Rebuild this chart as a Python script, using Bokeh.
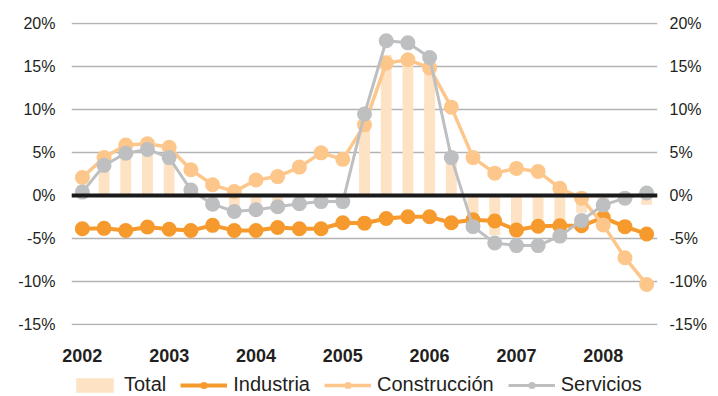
from bokeh.plotting import figure
from bokeh.layouts import column
from bokeh.models import (Range1d, LinearAxis, FixedTicker, Legend, LegendItem,
                          Span, ColumnDataSource, PrintfTickFormatter)
from bokeh.embed import file_html
from bokeh.resources import INLINE

# Quarterly data, 2002-T1 .. 2008-T3 (% year-on-year)
quarters = ["2002-T1", "2002-T2", "2002-T3", "2002-T4",
            "2003-T1", "2003-T2", "2003-T3", "2003-T4",
            "2004-T1", "2004-T2", "2004-T3", "2004-T4",
            "2005-T1", "2005-T2", "2005-T3", "2005-T4",
            "2006-T1", "2006-T2", "2006-T3", "2006-T4",
            "2007-T1", "2007-T2", "2007-T3", "2007-T4",
            "2008-T1", "2008-T2", "2008-T3"]
year_labels = ["2002", "2003", "2004", "2005", "2006", "2007", "2008"]

total = [1.2, 3.9, 5.2, 5.6, 4.6, 0.8, -0.6, -1.6, -1.6, -1.3, -0.9, -0.6, -0.6,
         8.6, 16.3, 16.0, 15.0, 4.7, -3.0, -4.6, -4.2, -3.0, -3.1, -2.0, -1.2, -0.8, -1.05]
industria = [-3.85, -3.8, -4.05, -3.65, -3.9, -4.05, -3.45, -4.05, -4.05, -3.7, -3.85, -3.85, -3.15,
             -3.2, -2.65, -2.45, -2.45, -3.15, -2.8, -2.95, -4.0, -3.55, -3.5, -3.5, -2.55, -3.6, -4.45]
construccion = [2.1, 4.4, 5.85, 6.0, 5.6, 3.0, 1.25, 0.46, 1.8, 2.2, 3.3, 4.95, 4.2,
                8.2, 15.35, 15.75, 14.8, 10.25, 4.4, 2.6, 3.15, 2.8, 0.85, -0.3, -3.4, -7.2, -10.3]
servicios = [0.4, 3.5, 4.9, 5.35, 4.4, 0.65, -1.0, -1.85, -1.65, -1.3, -0.95, -0.7, -0.7,
             9.45, 17.95, 17.7, 16.0, 4.4, -3.6, -5.5, -5.8, -5.8, -4.7, -2.9, -1.1, -0.3, 0.3]
y_ticks = [-15, -10, -5, 0, 5, 10, 15, 20]

x = list(range(len(quarters)))
src = ColumnDataSource(dict(x=x, q=quarters, total=total, industria=industria,
                            construccion=construccion, servicios=servicios))

C_TOTAL = "#FDE2C4"
C_IND = "#F79A2E"
C_CON = "#FDC78B"
C_SER = "#BEBFC1"
TXT = "#231F20"
FONT = "Liberation Sans"


def add_series(fig, with_zero=False):
    """Draw bars + three marker lines on fig; return renderers for the legend."""
    r_tot = fig.vbar(x="x", top="total", bottom=0, width=0.5, source=src,
                     fill_color=C_TOTAL, line_color=None)
    out = [r_tot]
    if with_zero:
        fig.add_layout(Span(location=0, dimension="width", line_color="#1A1A1A", line_width=4))
    for col, color, lw in (("industria", C_IND, 4), ("construccion", C_CON, 3.5),
                           ("servicios", C_SER, 3)):
        rl = fig.line("x", col, source=src, line_color=color, line_width=lw)
        rm = fig.scatter("x", col, source=src, size=15, marker="circle",
                         fill_color=color, line_color=None)
        out.append([rl, rm])
    return out


p = figure(width=718, height=365, output_backend="svg", toolbar_location=None,
           x_range=Range1d(-0.5, len(quarters) - 0.5), y_range=Range1d(-15.06, 20.06),
           min_border_left=71, min_border_right=61, min_border_top=22, min_border_bottom=40)
p.outline_line_color = None
p.background_fill_color = "white"
p.border_fill_color = "white"

# grid
p.xgrid.grid_line_color = None
p.ygrid.ticker = FixedTicker(ticks=y_ticks)
p.ygrid.grid_line_color = "#B3B3B3"
p.ygrid.grid_line_width = 1.3

# left axis
ya = p.yaxis[0]
ya.ticker = FixedTicker(ticks=y_ticks)
ya.formatter = PrintfTickFormatter(format="%d%%")
ya.axis_line_color = None
ya.major_tick_line_color = None
ya.minor_tick_line_color = None
ya.major_label_text_font = FONT
ya.major_label_text_font_size = "16px"
ya.major_label_text_color = TXT
ya.major_label_standoff = 10

# right axis
ra = LinearAxis(ticker=FixedTicker(ticks=y_ticks), formatter=PrintfTickFormatter(format="%d%%"))
ra.axis_line_color = None
ra.major_tick_line_color = None
ra.minor_tick_line_color = None
ra.major_label_text_font = FONT
ra.major_label_text_font_size = "16px"
ra.major_label_text_color = TXT
ra.major_label_standoff = 6
p.add_layout(ra, "right")

# bottom axis: year labels at first quarter of each year
year_pos = [i for i, q in enumerate(quarters) if q.endswith("T1")]
xa = p.xaxis[0]
xa.ticker = FixedTicker(ticks=year_pos)
xa.major_label_overrides = {pos: lab for pos, lab in zip(year_pos, year_labels)}
xa.axis_line_color = None
xa.major_tick_line_color = None
xa.minor_tick_line_color = None
xa.major_label_text_font = FONT
xa.major_label_text_font_size = "18px"
xa.major_label_text_font_style = "bold"
xa.major_label_text_color = TXT
xa.major_label_standoff = 17

add_series(p, with_zero=True)

# legend strip: same series drawn out of view, only the legend is visible
lg = figure(width=718, height=31, output_backend="svg", toolbar_location=None,
            x_range=Range1d(1000, 1001), y_range=Range1d(1000, 1001),
            min_border_left=0, min_border_right=0, min_border_top=0, min_border_bottom=0)
lg.axis.visible = False
lg.grid.visible = False
lg.outline_line_color = None
lg.background_fill_color = "white"
lg.border_fill_color = "white"
l_tot, l_ind, l_con, l_ser = add_series(lg)

legend = Legend(items=[
    LegendItem(label="Total", renderers=[l_tot]),
    LegendItem(label="Industria", renderers=l_ind),
    LegendItem(label="Construcción", renderers=l_con),
    LegendItem(label="Servicios", renderers=l_ser),
], orientation="horizontal", location=(0, 0))
legend.label_text_font = FONT
legend.label_text_font_size = "20px"
legend.label_text_color = TXT
legend.glyph_width = 47
legend.glyph_height = 18
legend.label_standoff = 6
legend.spacing = 14
legend.padding = 0
legend.margin = 0
legend.border_line_color = None
legend.background_fill_alpha = 0
lg.add_layout(legend, "center")

layout = column(p, lg, spacing=0)
open("out.html", "w").write(file_html(layout, INLINE))
